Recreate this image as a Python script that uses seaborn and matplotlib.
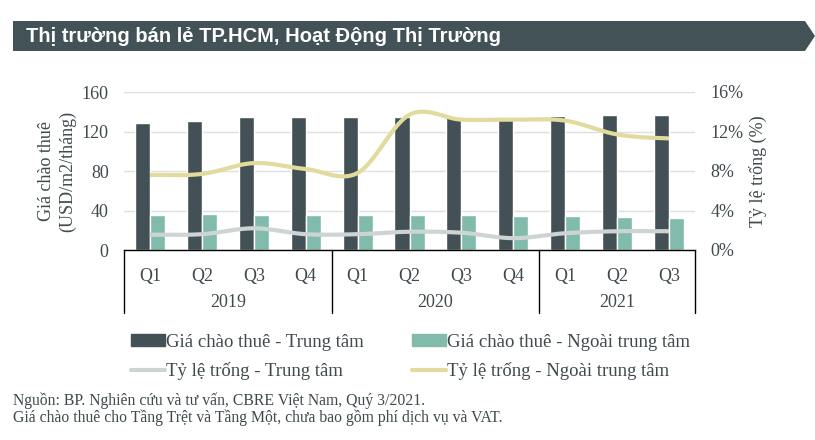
import numpy as np
import pandas as pd
import seaborn as sns
import matplotlib.pyplot as plt
from matplotlib.patches import Polygon, Patch
from matplotlib.lines import Line2D
import matplotlib.transforms as mtransforms

# Data
years = ["2019", "2020", "2021"]
quarters = ["Q1", "Q2", "Q3", "Q4", "Q1", "Q2", "Q3", "Q4", "Q1", "Q2", "Q3"]
periods = ["2019 Q1", "2019 Q2", "2019 Q3", "2019 Q4",
           "2020 Q1", "2020 Q2", "2020 Q3", "2020 Q4",
           "2021 Q1", "2021 Q2", "2021 Q3"]
gia_trung_tam = [129, 130.5, 134.5, 135, 135, 135, 134.5, 134.5, 135.5, 137, 137]
gia_ngoai = [35.5, 36.5, 35.5, 35.5, 35.5, 35.5, 35.5, 34.5, 34.5, 33.5, 32.5]
tl_trung_tam = [1.55, 1.6, 2.2, 1.6, 1.6, 1.85, 1.75, 1.2, 1.7, 1.9, 1.9]
tl_ngoai = [7.6, 7.7, 8.8, 8.2, 7.8, 13.7, 13.2, 13.2, 13.1, 11.7, 11.3]

lbl_bar1 = "Giá chào thuê - Trung tâm"
lbl_bar2 = "Giá chào thuê - Ngoài trung tâm"
lbl_line1 = "Tỷ lệ trống - Trung tâm"
lbl_line2 = "Tỷ lệ trống - Ngoài trung tâm"

c_dark = "#435156"
c_teal = "#80BBAC"
c_grey = "#CDD4D3"
c_yellow = "#E2DB9E"
c_text = "#3F4A4D"

sns.set_style("white")
plt.rcParams["font.family"] = ["Liberation Serif", "DejaVu Serif"]


def smooth(y, n=30):
    # Catmull-Rom curve through the points, for drawing like a smoothed line
    y = np.asarray(y, dtype=float)
    x = np.arange(len(y), dtype=float)
    px = np.concatenate([[2 * x[0] - x[1]], x, [2 * x[-1] - x[-2]]])
    py = np.concatenate([[y[0]], y, [y[-1]]])
    xs, ys = [], []
    for i in range(1, len(px) - 2):
        t = np.linspace(0, 1, n, endpoint=False)
        for arr, out in ((px, xs), (py, ys)):
            p0, p1, p2, p3 = arr[i - 1], arr[i], arr[i + 1], arr[i + 2]
            out.extend(0.5 * ((2 * p1) + (-p0 + p2) * t
                              + (2 * p0 - 5 * p1 + 4 * p2 - p3) * t ** 2
                              + (-p0 + 3 * p1 - 3 * p2 + p3) * t ** 3))
    xs.append(x[-1])
    ys.append(y[-1])
    return np.array(xs), np.array(ys)


df = pd.DataFrame({
    "period": periods * 2,
    "value": gia_trung_tam + gia_ngoai,
    "series": [lbl_bar1] * len(periods) + [lbl_bar2] * len(periods),
})

fig = plt.figure(figsize=(8.15, 4.4), dpi=100)
ax = fig.add_axes([124 / 815, 1 - 250 / 440, 571 / 815, 158 / 440])

sns.barplot(data=df, x="period", y="value", hue="series", order=periods,
            palette=[c_dark, c_teal], width=0.58, gap=0, ax=ax,
            legend=False, saturation=1)
ax.set_xlim(-0.5, len(periods) - 0.5)
ax.set_ylim(0, 160)
ax.set_yticks([0, 40, 80, 120, 160])
ax.yaxis.grid(True, color="#DDE0E0", linewidth=1)
ax.set_axisbelow(True)
for s in ["top", "left", "right"]:
    ax.spines[s].set_visible(False)
ax.spines["bottom"].set_color("black")
ax.spines["bottom"].set_linewidth(1)
ax.tick_params(axis="both", length=0, labelsize=13, colors=c_text)
ax.tick_params(axis="y", pad=11)
ax.set_xticks(range(len(periods)))
ax.set_xticklabels(quarters)
ax.tick_params(axis="x", pad=13)
ax.set_xlabel("")
ax.set_ylabel("Giá chào thuê\n(USD/m2/tháng)", fontsize=13, color=c_text,
              labelpad=4, linespacing=1.3)

ax2 = ax.twinx()
xs, ys = smooth(tl_trung_tam)
ax2.plot(xs, ys, color=c_grey, linewidth=3, solid_capstyle="butt")
xs, ys = smooth(tl_ngoai)
ax2.plot(xs, ys, color=c_yellow, linewidth=3, solid_capstyle="butt")
ax2.set_ylim(0, 16)
ax2.set_yticks([0, 4, 8, 12, 16])
ax2.set_yticklabels([f"{v}%" for v in [0, 4, 8, 12, 16]])
for s in ["top", "left", "right", "bottom"]:
    ax2.spines[s].set_visible(False)
ax2.tick_params(axis="y", length=0, labelsize=13, colors=c_text, pad=11)
ax2.set_ylabel("Tỷ lệ trống (%)", fontsize=13, color=c_text, labelpad=4)

# year groups under the quarter labels
trans = mtransforms.blended_transform_factory(ax.transData, ax.transAxes)
bounds = [-0.5, 3.5, 7.5, 10.5]
for b in bounds:
    ax.add_line(Line2D([b, b], [0, -0.40], transform=trans, color="black",
                       linewidth=1, clip_on=False))
for i, yr in enumerate(years):
    ax.text((bounds[i] + bounds[i + 1]) / 2, -0.335, yr, transform=trans,
            ha="center", va="center", fontsize=13, color=c_text)

# legend (column-major order gives rows: bars, then lines)
handles = [Patch(color=c_dark), Line2D([], [], color=c_grey, linewidth=3),
           Patch(color=c_teal), Line2D([], [], color=c_yellow, linewidth=3)]
fig.legend(handles, [lbl_bar1, lbl_line1, lbl_bar2, lbl_line2], ncol=2,
           loc="upper left", bbox_to_anchor=(114 / 815, 1 - 317 / 440),
           frameon=False, fontsize=13.5, handlelength=1.8, handleheight=0.6,
           handletextpad=0.05, columnspacing=2.6, labelspacing=0.6,
           labelcolor=c_text)

# title banner
W, H = 815, 440
pts = [(13, 21), (805, 21), (815, 36), (805, 51), (13, 51)]
fig.patches.append(Polygon([(x / W, 1 - y / H) for x, y in pts], closed=True,
                           facecolor="#435256", edgecolor="none",
                           transform=fig.transFigure))
fig.text(26 / W, 1 - 36 / H, "Thị trường bán lẻ TP.HCM, Hoạt Động Thị Trường",
         family=["Liberation Sans Narrow", "Liberation Sans", "DejaVu Sans"],
         fontweight="bold", fontsize=14.5, color="white", va="center", ha="left")

# notes
fig.text(13 / W, 1 - 401 / H,
         "Nguồn: BP. Nghiên cứu và tư vấn, CBRE Việt Nam, Quý 3/2021.",
         fontsize=11.3, color=c_text, va="center")
fig.text(13 / W, 1 - 418 / H,
         "Giá chào thuê cho Tầng Trệt và Tầng Một, chưa bao gồm phí dịch vụ và VAT.",
         fontsize=11.3, color=c_text, va="center")

fig.savefig("out.png", dpi=100)
